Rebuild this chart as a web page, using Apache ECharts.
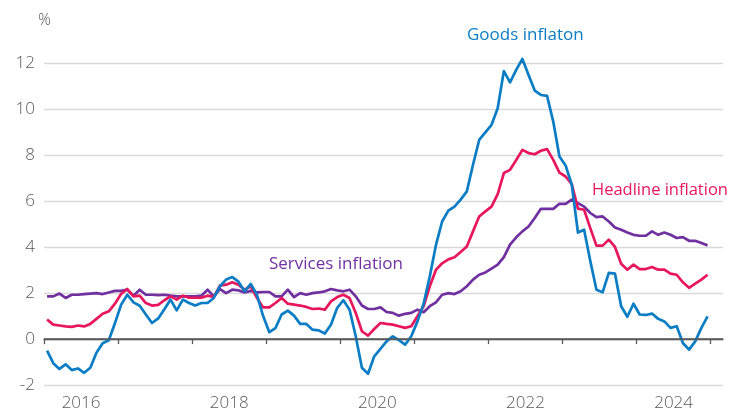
<!DOCTYPE html>
<html>
<head>
<meta charset="utf-8">
<script src="https://cdn.jsdelivr.net/npm/echarts@6/dist/echarts.min.js"></script>
<style>
  html, body { margin: 0; padding: 0; background: #fff; }
  #chart { width: 739px; height: 416px; }
</style>
</head>
<body>
<div id="chart"></div>
<script>
// Monthly inflation rates, Jan 2016 – Dec 2024 (% year on year)
const startYear = 2016;
const months = [];
for (let y = 2016; y <= 2024; y++) {
  for (let m = 1; m <= 12; m++) months.push(y + '-' + String(m).padStart(2, '0'));
}

const goods = [
  -0.5, -1.05, -1.3, -1.1, -1.35, -1.28, -1.47, -1.25, -0.6, -0.18, -0.05, 0.7,
  1.5, 1.93, 1.6, 1.45, 1.07, 0.7, 0.9, 1.3, 1.72, 1.25, 1.72, 1.57,
  1.46, 1.57, 1.57, 1.79, 2.3, 2.59, 2.7, 2.5, 2.08, 2.4, 1.93, 1.0,
  0.3, 0.48, 1.07, 1.24, 1.02, 0.66, 0.66, 0.41, 0.38, 0.24, 0.63, 1.36,
  1.69, 1.28, 0.12, -1.25, -1.51, -0.75, -0.43, -0.1, 0.12, -0.05, -0.24, 0.12,
  0.77, 1.54, 2.73, 4.1, 5.12, 5.59, 5.77, 6.07, 6.43, 7.59, 8.67, 9.0,
  9.33, 10.05, 11.67, 11.18, 11.72, 12.2, 11.5, 10.82, 10.63, 10.59, 9.47, 7.95,
  7.56, 6.72, 4.64, 4.76, 3.4, 2.15, 2.04, 2.88, 2.85, 1.43, 0.97, 1.54,
  1.07, 1.05, 1.11, 0.88, 0.77, 0.49, 0.56, -0.17, -0.46, -0.1, 0.49, 0.99
];

const headline = [
  0.85, 0.63, 0.59, 0.55, 0.53, 0.59, 0.55, 0.66, 0.88, 1.1, 1.21, 1.54,
  1.97, 2.18, 1.86, 1.89, 1.57, 1.46, 1.49, 1.69, 1.86, 1.72, 1.89, 1.8,
  1.8, 1.8, 1.89, 1.83, 2.33, 2.37, 2.47, 2.37, 2.15, 2.3, 1.79, 1.38,
  1.38, 1.57, 1.79, 1.54, 1.5, 1.46, 1.4, 1.31, 1.33, 1.28, 1.64, 1.83,
  1.93, 1.79, 1.14, 0.34, 0.15, 0.44, 0.7, 0.66, 0.63, 0.56, 0.49, 0.56,
  0.99, 1.43, 2.3, 3.02, 3.3, 3.47, 3.56, 3.79, 4.03, 4.69, 5.34, 5.56,
  5.77, 6.31, 7.23, 7.37, 7.8, 8.24, 8.1, 8.05, 8.2, 8.27, 7.8, 7.25,
  7.08, 6.75, 5.68, 5.63, 4.83, 4.07, 4.07, 4.33, 4.01, 3.28, 3.02, 3.24,
  3.05, 3.05, 3.14, 3.02, 3.02, 2.85, 2.8, 2.47, 2.23, 2.41, 2.59, 2.8
];

const services = [
  1.86, 1.86, 1.98, 1.79, 1.93, 1.93, 1.96, 1.98, 2.0, 1.96, 2.03, 2.1,
  2.1, 2.15, 1.89, 2.15, 1.93, 1.93, 1.91, 1.93, 1.89, 1.86, 1.86, 1.86,
  1.86, 1.89, 2.15, 1.86, 2.18, 2.0, 2.15, 2.12, 2.03, 2.1, 2.03, 2.05,
  2.05, 1.86, 1.86, 2.15, 1.83, 2.0, 1.93, 2.0, 2.03, 2.08, 2.18, 2.12,
  2.08, 2.15, 1.86, 1.46, 1.31, 1.31, 1.38, 1.18, 1.14, 1.02, 1.1, 1.14,
  1.28, 1.17, 1.43, 1.6, 1.93, 2.0, 1.96, 2.08, 2.3, 2.59, 2.8, 2.9,
  3.07, 3.24, 3.57, 4.11, 4.43, 4.69, 4.9, 5.27, 5.67, 5.67, 5.67, 5.89,
  5.89, 6.07, 5.92, 5.77, 5.49, 5.31, 5.34, 5.12, 4.86, 4.76, 4.64, 4.54,
  4.5, 4.5, 4.69, 4.54, 4.64, 4.54, 4.4, 4.44, 4.28, 4.28, 4.18, 4.08
];

const yearLabels = ['2016', '2018', '2020', '2022', '2024'];
const seriesNames = ['Goods inflaton', 'Headline inflation', 'Services inflation'];

const COLORS = { goods: '#0a7dc4', headline: '#e8175d', services: '#7030a0' };
const GREY = '#595959';
const FONT = '"Open Sans", "Noto Sans", sans-serif';

// x position: months since Jan 2016, each point in the middle of its month
const toPoints = arr => arr.map((v, i) => [i + 0.5, v]);

// year tick marks at each January; year labels in the middle of every other year
const yearTicks = [];
for (let k = 0; k <= 9; k++) yearTicks.push(k * 12);
const labelPositions = yearLabels.map(l => (Number(l) - startYear) * 12 + 6);

const lineSeries = (name, data, color, extra) => Object.assign({
  name, type: 'line', data: toPoints(data), showSymbol: false, clip: false,
  lineStyle: { color, width: 2.7, join: 'round' }, itemStyle: { color },
  silent: true, animation: false
}, extra || {});

const chart = echarts.init(document.getElementById('chart'), null, { renderer: 'canvas' });
chart.setOption({
  animation: false,
  backgroundColor: '#fff',
  grid: { left: 44, right: 16, top: 63.5, bottom: 31, containLabel: false },
  xAxis: {
    type: 'value', min: 0, max: 110,
    axisLine: { show: true, lineStyle: { color: GREY, width: 1.3 } },
    axisTick: { show: true, customValues: yearTicks, length: 5, lineStyle: { color: GREY, width: 1.3 } },
    axisLabel: {
      customValues: labelPositions,
      formatter: v => yearLabels[labelPositions.indexOf(v)] || '',
      color: GREY, fontSize: 17, fontFamily: FONT, fontWeight: 300, margin: 10
    },
    splitLine: { show: false }
  },
  yAxis: {
    type: 'value', min: -2, max: 12, interval: 2,
    axisLine: { show: false }, axisTick: { show: false },
    axisLabel: { color: GREY, fontSize: 17, fontFamily: FONT, fontWeight: 300, margin: 9 },
    splitLine: { show: true, lineStyle: { color: '#d9d9d9', width: 1.3 } }
  },
  series: [
    lineSeries(seriesNames[2], services, COLORS.services, {
      markLine: {
        silent: true, symbol: 'none', label: { show: false },
        lineStyle: { color: GREY, width: 1.6, type: 'solid' },
        data: [{ yAxis: 0 }]
      }
    }),
    lineSeries(seriesNames[1], headline, COLORS.headline),
    lineSeries(seriesNames[0], goods, COLORS.goods)
  ],
  graphic: [
    { type: 'text', left: 38, top: 12, style: { text: '%', fill: GREY, font: '300 16px ' + FONT } },
    { type: 'text', left: 467, top: 27, style: { text: seriesNames[0], fill: COLORS.goods, font: '17px ' + FONT } },
    { type: 'text', left: 592, top: 182, style: { text: seriesNames[1], fill: COLORS.headline, font: '16.5px ' + FONT } },
    { type: 'text', left: 269, top: 256, style: { text: seriesNames[2], fill: COLORS.services, font: '17px ' + FONT } }
  ]
});
</script>
</body>
</html>
